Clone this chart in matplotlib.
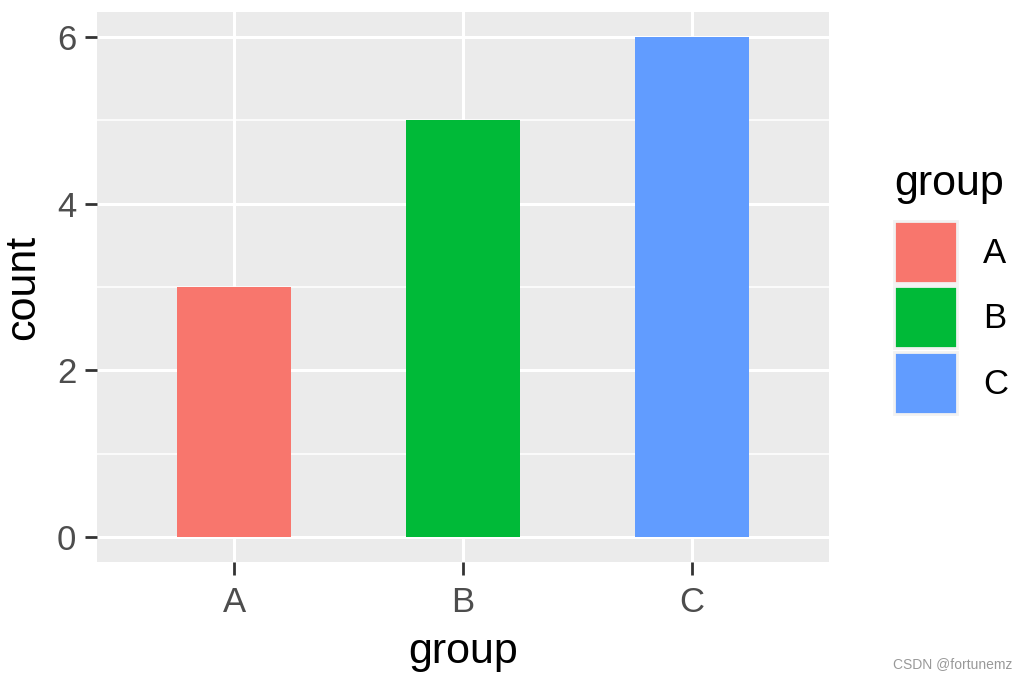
import matplotlib.pyplot as plt
import numpy as np

plt.rcParams['font.family'] = ['Liberation Sans', 'DejaVu Sans']

groups = ['A', 'B', 'C']
counts = [3, 5, 6]
colors = ['#F8766D', '#00BA38', '#619CFF']

W, H = 1028, 679
fig = plt.figure(figsize=(W / 100, H / 100), dpi=100)
ax = fig.add_axes([97 / W, (H - 562) / H, (829 - 97) / W, (562 - 12) / H])

x = np.arange(1, len(groups) + 1)
ax.bar(x, counts, width=0.5, color=colors, zorder=3)

ax.set_facecolor('#EBEBEB')
ax.set_xlim(0.4, 3.6)
ax.set_ylim(-0.3, 6.3)
ax.set_xticks(x)
ax.set_xticklabels(groups)
ax.set_yticks([0, 2, 4, 6])
ax.set_yticks([1, 3, 5], minor=True)
ax.grid(which='major', color='white', linewidth=2.2, zorder=0)
ax.grid(which='minor', axis='y', color='white', linewidth=1.1, zorder=0)
ax.set_axisbelow(True)
for s in ax.spines.values():
    s.set_visible(False)
ax.tick_params(axis='both', which='major', length=9, width=2, color='#333333',
               labelsize=25, labelcolor='#4D4D4D', pad=6)
ax.tick_params(axis='x', which='major', pad=8)
ax.tick_params(axis='y', which='minor', length=0)

ax.set_xlabel('group', fontsize=31, labelpad=10)
ax.set_ylabel('count', fontsize=31, labelpad=10)

handles = [plt.Rectangle((0, 0), 1, 1, facecolor=c, edgecolor='#F2F2F2', linewidth=2)
           for c in colors]
leg = fig.legend(handles, groups, loc='upper left', bbox_to_anchor=(870 / W, 1 - 140 / H),
                 frameon=False, fontsize=25, title='group', title_fontsize=31,
                 handlelength=1.8, handleheight=2.37, labelspacing=0.1,
                 handletextpad=0.75, borderpad=0.2)
leg._legend_box.align = 'left'
leg._legend_box.sep = 12

fig.text(1012 / W, 1 - 664 / H, 'CSDN @fortunemz', fontsize=10, color='#999999',
         ha='right', va='center')

fig.savefig('out.png', dpi=100)
